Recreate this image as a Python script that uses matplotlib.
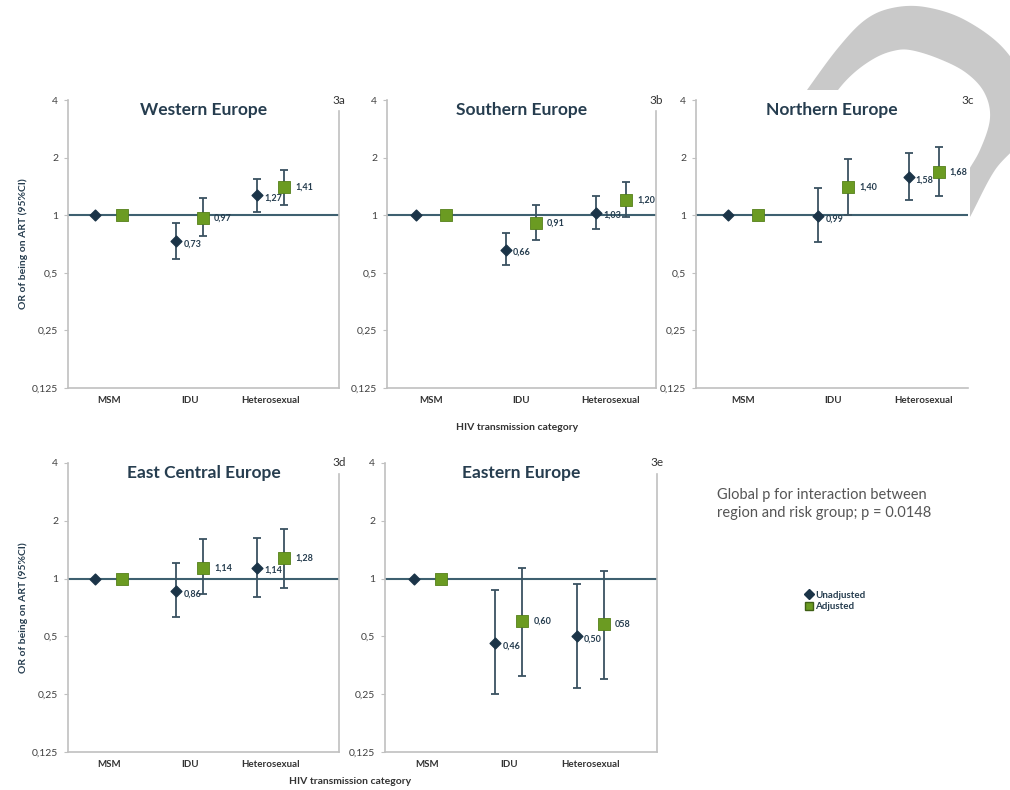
import numpy as np
import matplotlib
matplotlib.use("Agg")
import matplotlib.pyplot as plt
from matplotlib.lines import Line2D
from matplotlib.patches import Rectangle, Polygon

plt.rcParams['font.family'] = ['Lato', 'DejaVu Sans']

# Odds ratios (95% CI) of being on ART by region and transmission group
regions = ["Western Europe", "Southern Europe", "Northern Europe",
           "East Central Europe", "Eastern Europe"]
panel_tags = ["3a", "3b", "3c", "3d", "3e"]
categories = ["MSM", "IDU", "Heterosexual"]

unadj_or = [[1, 0.73, 1.27], [1, 0.66, 1.03], [1, 0.99, 1.58], [1, 0.86, 1.14], [1, 0.46, 0.50]]
unadj_lo = [[1, 0.59, 1.04], [1, 0.55, 0.85], [1, 0.72, 1.20], [1, 0.63, 0.80], [1, 0.25, 0.27]]
unadj_hi = [[1, 0.91, 1.55], [1, 0.81, 1.26], [1, 1.38, 2.11], [1, 1.20, 1.62], [1, 0.87, 0.94]]
unadj_txt = [["", "0,73", "1,27"], ["", "0,66", "1,03"], ["", "0,99", "1,58"],
             ["", "0,86", "1,14"], ["", "0,46", "0,50"]]

adj_or = [[1, 0.97, 1.41], [1, 0.91, 1.20], [1, 1.40, 1.68], [1, 1.14, 1.28], [1, 0.60, 0.58]]
adj_lo = [[1, 0.78, 1.13], [1, 0.74, 0.98], [1, 1.00, 1.26], [1, 0.83, 0.89], [1, 0.31, 0.30]]
adj_hi = [[1, 1.23, 1.73], [1, 1.13, 1.49], [1, 1.97, 2.26], [1, 1.60, 1.82], [1, 1.13, 1.10]]
adj_txt = [["", "0,97", "1,41"], ["", "0,91", "1,20"], ["", "1,40", "1,68"],
           ["", "1,14", "1,28"], ["", "0,60", "058"]]

y_ticks = [0.125, 0.25, 0.5, 1, 2, 4]
y_ticklabels = ["0,125", "0,25", "0,5", "1", "2", "4"]

NAVY = "#1b3448"
GREEN = "#6b9b22"
BAR = "#3a5261"
REF = "#3e6070"
SPINE = "#c0c0c0"
TXT = "#263d4f"

W, H = 1010, 790
fig = plt.figure(figsize=(W / 100, H / 100), dpi=100)
fig.patch.set_facecolor("white")


def px_box(left, top, right, bottom):
    return [left / W, 1 - bottom / H, (right - left) / W, (bottom - top) / H]


def smooth(points, n=16):
    # Catmull-Rom through the given pixel points
    p = np.asarray(points, float)
    ext = np.vstack([p[0], p, p[-1]])
    out = []
    for i in range(1, len(ext) - 2):
        p0, p1, p2, p3 = ext[i - 1], ext[i], ext[i + 1], ext[i + 2]
        for t in np.linspace(0, 1, n, endpoint=False):
            out.append(0.5 * ((2 * p1) + (-p0 + p2) * t
                              + (2 * p0 - 5 * p1 + 4 * p2 - p3) * t ** 2
                              + (-p0 + 3 * p1 - 3 * p2 + p3) * t ** 3))
    out.append(p[-1])
    return np.array(out)


# panel boxes in pixels and x-limits in category units
boxes = [(68, 100, 339, 388), (387, 100, 656, 388), (696, 100, 968, 388),
         (68, 463, 339, 752), (385, 463, 657, 752)]
xlims = [(-0.50, 2.84), (-0.49, 2.50), (-0.52, 2.49), (-0.50, 2.84), (-0.52, 2.82)]
dx = 0.165

# grey brush stroke in the top right corner, partly hidden by the 3c panel
outer = [(790, 115), (807, 90), (838, 48), (865, 20), (892, 8), (925, 7), (965, 20),
         (1005, 50), (1030, 95), (1025, 135), (995, 170), (970, 217), (950, 252)]
inner = [(935, 240), (962, 182), (980, 150), (990, 118), (984, 92), (965, 72),
         (937, 58), (910, 50), (893, 51), (875, 58), (855, 72), (838, 90), (822, 115)]
shape = np.vstack([smooth(outer), smooth(inner)])
fig.add_artist(Polygon(np.column_stack([shape[:, 0] / W, 1 - shape[:, 1] / H]),
                       closed=True, transform=fig.transFigure,
                       facecolor="#c9c9c9", edgecolor="none", zorder=0))
fig.add_artist(Rectangle((660 / W, 1 - 400 / H), 310 / W, 310 / H,
                         transform=fig.transFigure, facecolor="white",
                         edgecolor="none", zorder=0.5))

x = np.arange(len(categories))
for k, region in enumerate(regions):
    ax = fig.add_axes(px_box(*boxes[k]))
    ax.set_zorder(1)
    ax.set_yscale("log", base=2)
    ax.set_ylim(0.125, 4)
    ax.set_xlim(*xlims[k])
    ax.set_yticks(y_ticks)
    ax.set_yticklabels(y_ticklabels)
    ax.minorticks_off()
    ax.set_xticks(x)
    ax.set_xticklabels(categories, fontsize=7, fontweight="bold", color="#333333")
    ax.tick_params(axis="y", labelsize=7.5, labelcolor="#404040", length=3,
                   color=SPINE, pad=4)
    ax.tick_params(axis="x", length=0, pad=6)

    ax.spines["top"].set_visible(False)
    ax.spines["right"].set_visible(k != 2)
    ax.spines["right"].set_bounds(0.125, 3.5)
    for s in ["left", "bottom", "right"]:
        ax.spines[s].set_color(SPINE)
        ax.spines[s].set_linewidth(1.2)

    ax.axhline(1, color=REF, lw=1.5, zorder=1)

    u = np.array(unadj_or[k])
    a = np.array(adj_or[k])
    ulo, uhi = np.array(unadj_lo[k]), np.array(unadj_hi[k])
    alo, ahi = np.array(adj_lo[k]), np.array(adj_hi[k])

    ax.errorbar(x[1:] - dx, u[1:], yerr=[u[1:] - ulo[1:], uhi[1:] - u[1:]],
                fmt="none", ecolor=BAR, elinewidth=1.3, capsize=3, capthick=1.3, zorder=2)
    ax.errorbar(x[1:] + dx, a[1:], yerr=[a[1:] - alo[1:], ahi[1:] - a[1:]],
                fmt="none", ecolor=BAR, elinewidth=1.3, capsize=3, capthick=1.3, zorder=2)
    ax.scatter(x - dx, u, marker="D", s=30, color=NAVY, zorder=3)
    ax.scatter(x + dx, a, marker="s", s=80, color=GREEN, edgecolor="#55801a",
               linewidth=0.6, zorder=3)

    for i in x[1:]:
        ax.annotate(unadj_txt[k][i], (x[i] - dx, u[i]), xytext=(5, -2),
                    textcoords="offset points", fontsize=6.5, fontweight="bold",
                    color=TXT, va="center")
        ax.annotate(adj_txt[k][i], (x[i] + dx, a[i]), xytext=(8, 0),
                    textcoords="offset points", fontsize=6.5, fontweight="bold",
                    color=TXT, va="center")

    ax.set_title(region, fontsize=12.5, fontweight="bold", color=TXT, pad=-11, y=1)
    ax.text(1.0, 1.0, panel_tags[k], transform=ax.transAxes, ha="center",
            va="center", fontsize=8.5, color="#333333")
    if k in (0, 3):
        ax.set_ylabel("OR of being on ART (95%CI)", fontsize=7.5, fontweight="bold",
                      color=TXT, labelpad=3)

fig.text(517 / W, 1 - 428 / H, "HIV transmission category", ha="center", va="center",
         fontsize=7.5, fontweight="bold", color="#333333")
fig.text(350 / W, 1 - 781 / H, "HIV transmission category", ha="center", va="center",
         fontsize=7.5, fontweight="bold", color="#333333")

fig.text(717 / W, 1 - 504 / H, "Global p for interaction between\nregion and risk group; p = 0.0148",
         ha="left", va="center", fontsize=10.5, color="#555555", linespacing=1.4)

handles = [Line2D([], [], marker="D", color=NAVY, ls="none", markersize=5.5),
           Line2D([], [], marker="s", color=GREEN, markeredgecolor="#3f5f15",
                  ls="none", markersize=6)]
fig.legend(handles, ["Unadjusted", "Adjusted"], loc="center left",
           bbox_to_anchor=(795 / W, 1 - 601 / H), frameon=False,
           prop={"size": 7, "weight": "bold"}, labelcolor=TXT,
           handletextpad=0.2, labelspacing=0.3, handlelength=1.0)

fig.savefig("out.png", dpi=100)
